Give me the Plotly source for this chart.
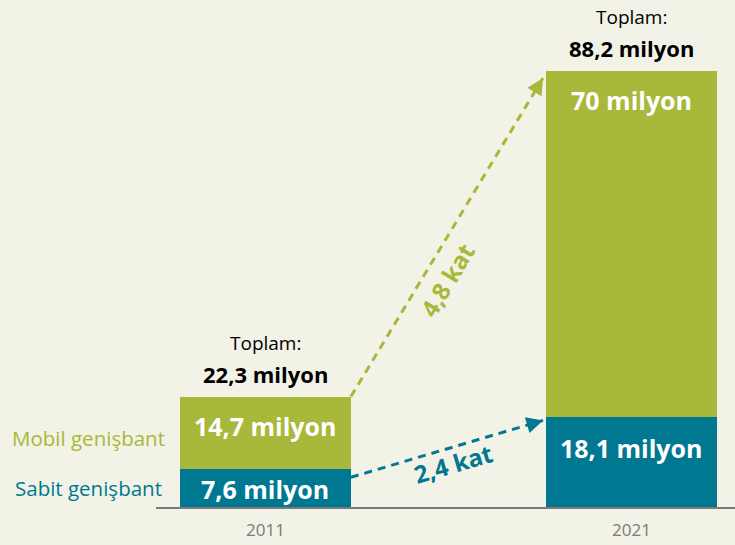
import math
import plotly.graph_objects as go

# ---- data ----
years = ["2011", "2021"]
sabit = [7.6, 18.1]          # Sabit genişbant (milyon)
mobil = [14.7, 70.0]         # Mobil genişbant (milyon)
totals = [22.3, 88.2]
sabit_labels = ["7,6 milyon", "18,1 milyon"]
mobil_labels = ["14,7 milyon", "70 milyon"]
total_labels = ["22,3 milyon", "88,2 milyon"]
growth_labels = ["2,4 kat", "4,8 kat"]   # sabit, mobil
series_names = ["Sabit genişbant", "Mobil genişbant"]

# ---- style ----
BG = "#f2f2e6"
TEAL = "#007891"
GREEN = "#a8b83a"
FONT = "Open Sans"
W, H = 735, 545
ML, MR, MT, MB = 156, 0, 0, 38
XR = [-0.299, 1.283]
YR = [0, 102.45]
BW = 0.467

xs = list(range(len(years)))
plot_w = W - ML - MR
plot_h = H - MT - MB


def px(x):
    return ML + (x - XR[0]) / (XR[1] - XR[0]) * plot_w


def py(y):
    return MT + plot_h - (y - YR[0]) / (YR[1] - YR[0]) * plot_h


fig = go.Figure()
fig.add_trace(go.Bar(x=xs, y=sabit, width=BW, marker=dict(color=TEAL, line=dict(width=0)),
                     name=series_names[0], hoverinfo="skip"))
fig.add_trace(go.Bar(x=xs, y=mobil, width=BW, marker=dict(color=GREEN, line=dict(width=0)),
                     name=series_names[1], hoverinfo="skip"))

annotations = []
tops = [s + m for s, m in zip(sabit, mobil)]
BAR_FONT = dict(color="white", size=25, family=FONT)

# in-bar labels
for i in xs:
    annotations.append(dict(x=i, y=tops[i], yshift=-29, text=f"<b>{mobil_labels[i]}</b>",
                            showarrow=False, font=BAR_FONT, yanchor="middle"))
annotations.append(dict(x=0, y=sabit[0] / 2, yshift=-1, text=f"<b>{sabit_labels[0]}</b>", showarrow=False,
                        font=BAR_FONT, yanchor="middle"))
annotations.append(dict(x=1, y=sabit[1], yshift=-31, text=f"<b>{sabit_labels[1]}</b>", showarrow=False,
                        font=BAR_FONT, yanchor="middle"))

# totals
for i in xs:
    annotations.append(dict(x=i, y=tops[i], yshift=23, yanchor="middle", text=f"<b>{total_labels[i]}</b>",
                            showarrow=False, font=dict(color="black", size=22, family=FONT)))
    annotations.append(dict(x=i, y=tops[i], yshift=54, yanchor="middle", text="Toplam:",
                            showarrow=False, font=dict(color="black", size=19, family=FONT)))

# legend-like labels at left
annotations.append(dict(xref="paper", x=-(ML - 10) / plot_w, xanchor="left",
                        y=sabit[0] + mobil[0] / 2, yshift=-5, text=series_names[1], showarrow=False,
                        font=dict(color=GREEN, size=20.5, family=FONT)))
annotations.append(dict(xref="paper", x=-(ML - 13) / plot_w, xanchor="left",
                        y=sabit[0] / 2, yshift=0, text=series_names[0], showarrow=False,
                        font=dict(color=TEAL, size=20.5, family=FONT)))

# growth arrows: (start y, end y, colour, label, normal offset, along offset)
arrow_specs = [
    (sabit[0] - 1.6, sabit[1] - 0.6, TEAL, growth_labels[0], 16, 2),
    (tops[0], tops[1] - 1.4, GREEN, growth_labels[1], 22, -37),
]
x0 = BW / 2
x1 = 1 - BW / 2 - 0.008
for y0, y1, col, lab, off, along in arrow_specs:
    fig.add_trace(go.Scatter(x=[x0, x1], y=[y0, y1], mode="lines",
                             line=dict(color=col, width=3, dash="8px,6px"),
                             hoverinfo="skip", showlegend=False))
    dxp = px(x1) - px(x0)
    dyp = py(y1) - py(y0)
    L = math.hypot(dxp, dyp)
    ux, uy = dxp / L, dyp / L
    annotations.append(dict(x=x1, y=y1, ax=-ux * 10, ay=-uy * 10, axref="pixel", ayref="pixel",
                            showarrow=True, arrowhead=2, arrowsize=1.1, arrowwidth=3,
                            arrowcolor=col, text=""))
    ang = math.degrees(math.atan2(dyp, dxp))
    nx, ny = -uy, ux
    sx = nx * off + ux * along
    sy = ny * off + uy * along
    annotations.append(dict(x=(x0 + x1) / 2, y=(y0 + y1) / 2, xshift=sx, yshift=-sy,
                            text=f"<b>{lab}</b>", textangle=ang, showarrow=False,
                            font=dict(color=col, size=24, family=FONT)))

fig.update_layout(
    width=W, height=H, barmode="stack", showlegend=False,
    paper_bgcolor=BG, plot_bgcolor=BG,
    margin=dict(l=ML, r=MR, t=MT, b=MB),
    annotations=annotations,
    hovermode=False,
    xaxis=dict(range=XR, tickvals=xs, ticktext=years, showline=True, linecolor="#7a7a7a",
               linewidth=2, showgrid=False, zeroline=False, ticks="", ticklabelstandoff=7,
               tickfont=dict(color="#7a7a7a", size=17, family=FONT), fixedrange=True),
    yaxis=dict(range=YR, visible=False, fixedrange=True),
)

page_css = (
    "document.body.style.margin='0';"
    "document.body.style.overflow='hidden';"
    f"document.body.style.background='{BG}';"
)
fig.write_html("out.html", post_script=page_css, config={"displayModeBar": False})
